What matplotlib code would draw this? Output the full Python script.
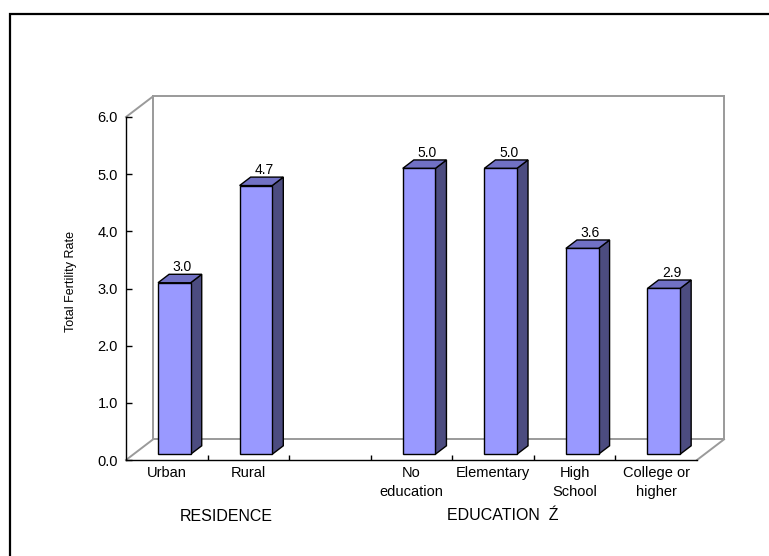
import matplotlib
matplotlib.use("Agg")
import matplotlib.pyplot as plt
from matplotlib.patches import Polygon, Rectangle
from matplotlib.lines import Line2D

plt.rcParams['font.family'] = ['Liberation Sans', 'DejaVu Sans']

# Data
residence_labels = ["Urban", "Rural"]
residence_values = [3.0, 4.7]
education_labels = ["No\neducation", "Elementary", "High\nSchool", "College or\nhigher"]
education_values = [5.0, 5.0, 3.6, 2.9]
y_ticks = [0.0, 1.0, 2.0, 3.0, 4.0, 5.0, 6.0]
group_titles = ["RESIDENCE", "EDUCATION  Ź"]
y_title = "Total Fertility Rate"

# Slot layout: two residence bars, one empty slot, four education bars
slot_labels = residence_labels + [""] + education_labels
slot_values = residence_values + [None] + education_values
n_slots = len(slot_labels)

W, H = 769, 556
fig = plt.figure(figsize=(W / 100, H / 100), dpi=100)
fig.patch.set_facecolor("white")

# front plane of the pseudo-3D box, in pixels
left_px, right_px, top_px, bottom_px = 126, 697, 117, 460
ax = fig.add_axes([left_px / W, 1 - bottom_px / H,
                   (right_px - left_px) / W, (bottom_px - top_px) / H])
ax.set_xlim(0, n_slots)
ax.set_ylim(0, max(y_ticks))
ax.patch.set_alpha(0)

# depth offsets (data units) of the back wall
px_x = (right_px - left_px) / n_slots
px_y = (bottom_px - top_px) / max(y_ticks)
DX = 27 / px_x
DY = 20.6 / px_y


def proj(x, v, d):
    return (x + d * DX, v + d * DY)


wall_kw = dict(color="#9a9a9a", lw=1.4, clip_on=False, zorder=1)
ymax = max(y_ticks)
# back wall outline and depth edges
for (x0, v0, d0), (x1, v1, d1) in [
    ((0, 0, 1), (n_slots, 0, 1)),
    ((0, ymax, 1), (n_slots, ymax, 1)),
    ((0, 0, 1), (0, ymax, 1)),
    ((n_slots, 0, 1), (n_slots, ymax, 1)),
    ((0, 0, 0), (0, 0, 1)),
    ((0, ymax, 0), (0, ymax, 1)),
    ((n_slots, 0, 0), (n_slots, 0, 1)),
]:
    a = proj(x0, v0, d0)
    b = proj(x1, v1, d1)
    ax.add_line(Line2D([a[0], b[0]], [a[1], b[1]], **wall_kw))

# bars
front_c, top_c, side_c = "#9999ff", "#7171c4", "#4c4c80"
hw = 0.2
d_front, d_back = 0.28, 0.69
for i, v in enumerate(slot_values):
    if v is None:
        continue
    c = i + 0.5
    front = [proj(c - hw, 0, d_front), proj(c + hw, 0, d_front),
             proj(c + hw, v, d_front), proj(c - hw, v, d_front)]
    side = [proj(c + hw, 0, d_front), proj(c + hw, 0, d_back),
            proj(c + hw, v, d_back), proj(c + hw, v, d_front)]
    top = [proj(c - hw, v, d_front), proj(c + hw, v, d_front),
           proj(c + hw, v, d_back), proj(c - hw, v, d_back)]
    for poly, col in [(side, side_c), (top, top_c), (front, front_c)]:
        ax.add_patch(Polygon(poly, closed=True, facecolor=col, edgecolor="black",
                             lw=1.0, joinstyle="miter", clip_on=False, zorder=3))
    lx, ly = proj(c, v, 0.58)
    ly = proj(c, v, d_back)[1]
    ax.annotate(f"{v:.1f}", (lx, ly), xytext=(0, 2.2), textcoords="offset points",
                ha="center", va="baseline", fontsize=10, annotation_clip=False,
                zorder=4)

# axes: front y axis and floor line
for s in ["top", "right"]:
    ax.spines[s].set_visible(False)
for s in ["left", "bottom"]:
    ax.spines[s].set_color("black")
    ax.spines[s].set_linewidth(1.0)
    ax.spines[s].set_zorder(2)

ax.set_yticks(y_ticks)
ax.set_yticklabels([f"{t:.1f}" for t in y_ticks])
ax.tick_params(axis="y", direction="in", length=4.3, width=1.0, pad=5.8,
               labelsize=10.5, colors="black")

ax.set_xticks([i + 0.5 for i in range(n_slots)])
ax.set_xticklabels(slot_labels, linespacing=1.45)
ax.set_xticks(list(range(1, n_slots)), minor=True)
ax.tick_params(axis="x", which="major", length=0, pad=4.5, labelsize=10.5)
ax.tick_params(axis="x", which="minor", direction="in", length=3.6, width=1.0,
               color="black")

# titles
fig.text(71 / W, 1 - 281 / H, y_title, rotation=90, ha="center", va="center",
         fontsize=9)
fig.text(180 / W, 1 - 521 / H, group_titles[0], ha="left", va="baseline",
         fontsize=11.5)
fig.text(446.7 / W, 1 - 520 / H, group_titles[1], ha="left", va="baseline",
         fontsize=11.5)

# outer frame
fig.add_artist(Rectangle((10 / W, -0.1), 1.0, (1 - 14 / H) + 0.1,
                         transform=fig.transFigure, fill=False,
                         edgecolor="black", lw=1.6, clip_on=False))

fig.savefig("out.png", dpi=100)
